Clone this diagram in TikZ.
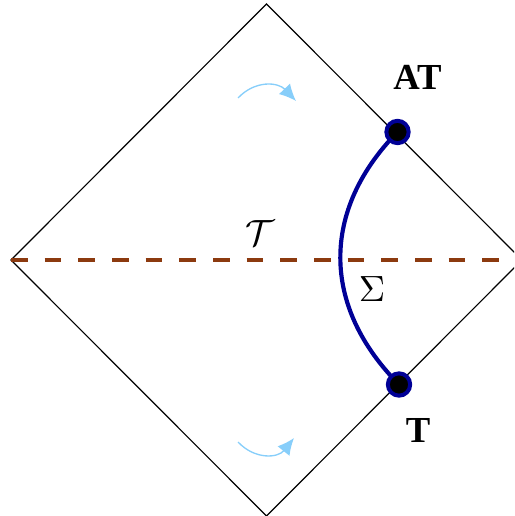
\documentclass[tikz,border=0pt]{standalone}
\usepackage{amsmath,amssymb}
\usepackage[no-math]{fontspec}
\newfontfamily\labfont{Liberation Serif}
\usepackage{tikz}
\usetikzlibrary{positioning,arrows.meta,calc}
\definecolor{navy}{HTML}{000096}
\definecolor{rust}{HTML}{8C3A0F}
\definecolor{sky}{HTML}{87CEFA}

\begin{document}
\begin{tikzpicture}[x=0.3pt, y=-0.3pt,
  edge/.style={draw=black, line width=0.35pt},
  hor/.style={draw=rust, line width=1.25pt, dash pattern=on 5pt off 5.1pt},
  wall/.style={draw=navy, line width=1.25pt},
  pt/.style={circle, draw=navy, fill=black, line width=1.2pt, minimum size=6.7pt, inner sep=0pt},
  flow/.style={draw=sky, line width=0.4pt, -{Latex[length=5pt, width=4.6pt]}},
  lab/.style={font=\labfont\bfseries\fontsize{11}{13}\selectfont, inner sep=0pt},
  sym/.style={font=\fontsize{11}{13}\selectfont, inner sep=0pt}]
  \useasboundingbox (0,0) rectangle (514,516);
  \clip (0,0) rectangle (514,516);
  % diamond
  \coordinate (top) at (266.5,4);
  \coordinate (lft) at (11,260);
  \coordinate (rgt) at (522,260);
  \coordinate (bot) at (266.5,516);
  \draw[edge] (top) -- (rgt) -- (bot) -- (lft) -- cycle;
  \draw[hor] (lft) -- (rgt);
  % surface
  \coordinate (pAT) at (397.5,132);
  \coordinate (pT) at (399,384.5);
  \draw[wall] (pAT) .. controls (321,210) and (321,306) .. (pT);
  \node[pt] (at) at (pAT) {};
  \node[pt] (t) at (pT) {};
  \node[lab] (atl) at ($(at)+(20,-55)$) {AT};
  \node[lab] (tl) at ($(t)+(19,46)$) {T};
  \node[sym] (sig) at (372,289) {$\Sigma$};
  \node[sym] (cal) at (260,233) {$\mathcal{T}$};
  % flow arrows
  \coordinate (u1) at (238,98);
  \coordinate (u2) at (296,101);
  \draw[flow] (u1) .. controls (255,80) and (278,82) .. (u2);
  \coordinate (d1) at (238,442);
  \coordinate (d2) at (294,438);
  \draw[flow] (d1) .. controls (255,460) and (278,458) .. (d2);
\end{tikzpicture}
\end{document}
